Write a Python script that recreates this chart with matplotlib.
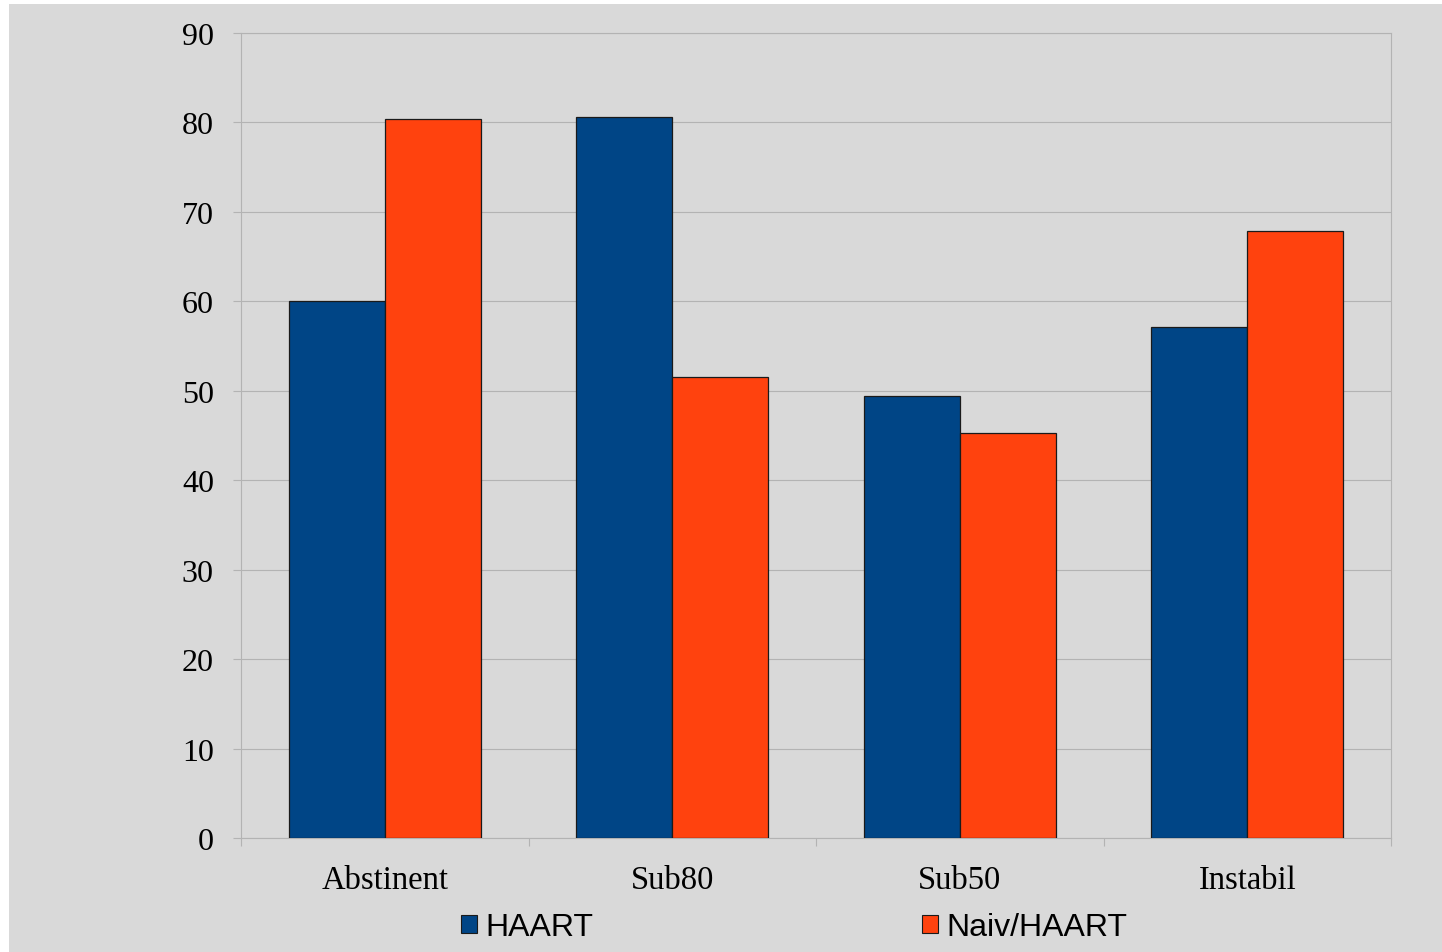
import matplotlib
matplotlib.use("Agg")
import matplotlib.pyplot as plt
from matplotlib.patches import Patch, Rectangle
import numpy as np

categories = ["Abstinent", "Sub80", "Sub50", "Instabil"]
series_names = ["HAART", "Naiv/HAART"]
haart = [60.0, 80.6, 49.4, 57.1]
naiv_haart = [80.4, 51.5, 45.3, 67.9]
y_ticks = [0, 10, 20, 30, 40, 50, 60, 70, 80, 90]

BG = "#d9d9d9"
GRID = "#b3b3b3"
BLUE = "#004586"
ORANGE = "#ff420e"

W, H = 1442, 953
fig = plt.figure(figsize=(W / 100, H / 100), dpi=100)
fig.patch.set_facecolor("white")
# grey chart area, leaving a thin white strip at the left and top
fig.patches.append(Rectangle((9 / W, 0), 1 - 9 / W, 1 - 5 / H, transform=fig.transFigure,
                             facecolor=BG, edgecolor="none", zorder=-10))

ax = fig.add_axes([241 / W, 1 - 839 / H, 1150 / W, 805 / H])
ax.set_facecolor(BG)

x = np.arange(len(categories))
bw = 1 / 3
ax.bar(x - bw / 2, haart, width=bw, color=BLUE, edgecolor="#1a1a1a", linewidth=0.9, zorder=3)
ax.bar(x + bw / 2, naiv_haart, width=bw, color=ORANGE, edgecolor="#1a1a1a", linewidth=0.9, zorder=3)

ax.set_xlim(-0.5, len(categories) - 0.5)
ax.set_ylim(0, 90)
ax.set_yticks(y_ticks)
ax.yaxis.grid(True, color=GRID, linewidth=0.8, zorder=0)
ax.set_axisbelow(True)

for s in ax.spines.values():
    s.set_color(GRID)
    s.set_linewidth(0.8)

serif = "Liberation Serif"
ax.tick_params(axis="y", length=6, width=0.8, color=GRID, pad=13.5,
               labelsize=23, labelcolor="black")
for lab in ax.get_yticklabels():
    lab.set_family(serif)

# category boundaries carry the tick marks, centres carry the labels
ax.set_xticks(np.arange(-0.5, len(categories) + 0.5, 1.0))
ax.set_xticklabels([])
ax.tick_params(axis="x", which="major", length=6, width=0.8, color=GRID)
ax.set_xticks(x, minor=True)
ax.set_xticklabels(categories, minor=True, fontsize=23.5, family=serif)
ax.tick_params(axis="x", which="minor", length=0, pad=19)

handles = [Patch(facecolor=BLUE, edgecolor="#1a1a1a", linewidth=0.8),
           Patch(facecolor=ORANGE, edgecolor="#1a1a1a", linewidth=0.8)]
fig.legend(handles, series_names, loc="center left", ncol=2,
           bbox_to_anchor=(461 / W, 1 - 928 / H), frameon=False,
           prop={"family": "Liberation Sans", "size": 23},
           handlelength=0.5, handleheight=0.5, handletextpad=0.27,
           columnspacing=10.27, borderpad=0, borderaxespad=0)

fig.savefig("out.png", dpi=100, facecolor=fig.get_facecolor())
